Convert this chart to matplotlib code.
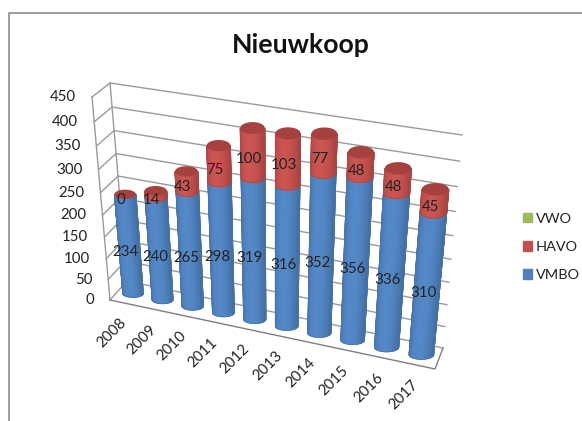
import matplotlib
matplotlib.use("Agg")
import matplotlib.pyplot as plt
import matplotlib.patches as mpatches
import numpy as np
from matplotlib.colors import LinearSegmentedColormap, to_rgb

years = ["2008", "2009", "2010", "2011", "2012", "2013", "2014", "2015", "2016", "2017"]
vmbo = [234, 240, 265, 298, 319, 316, 352, 356, 336, 310]
havo = [0, 14, 43, 75, 100, 103, 77, 48, 48, 45]
vwo = [0, 0, 0, 0, 0, 0, 0, 0, 0, 0]
y_ticks = [0, 50, 100, 150, 200, 250, 300, 350, 400, 450]

BLUE = "#4F81BD"
RED = "#C0504D"
GREEN = "#9BBB59"
RED_TOP = "#A5413E"
GRID = "#9A9A9A"
TEXT = "#222222"
FONT = "Lato"
FONT_SIZE = 10.8

Y_MAX = y_ticks[-1]

# box corners in figure pixels: (category fraction, value fraction) -> pixel
FRONT = [(110, 300), (435, 369), (457, 150), (92, 97)]
BACK = [(127, 281), (443, 348), (462, 135), (110, 83)]


def _homography(corners):
    """Perspective map from the unit square onto four pixel corners."""
    src = [(0, 0), (1, 0), (1, 1), (0, 1)]
    a, b = [], []
    for (u, v), (px, py) in zip(src, corners):
        a.append([u, v, 1, 0, 0, 0, -u * px, -v * px])
        a.append([0, 0, 0, u, v, 1, -u * py, -v * py])
        b += [px, py]
    h = np.linalg.solve(np.array(a, float), np.array(b, float))
    return np.append(h, 1).reshape(3, 3)


H_FRONT = _homography(FRONT)
H_BACK = _homography(BACK)


def project(x, value, depth):
    """x in categories, value in data units, depth 0 (front) to 1 (back)."""
    u = x / len(years)
    v = value / Y_MAX
    p = np.array([u, v, 1.0])
    a = H_FRONT @ p
    b = H_BACK @ p
    a = a[:2] / a[2]
    b = b[:2] / b[2]
    return a + (b - a) * depth


def rim(cx, value, t):
    """Point on a cylinder's circular section, flattened to an upright ellipse."""
    centre = project(cx, value, 0.5)
    spacing = project(cx + 0.5, value, 0.5)[0] - project(cx - 0.5, value, 0.5)[0]
    rx = 0.35 * spacing
    ry = rx * (0.37 + 0.12 * value / Y_MAX)
    return centre + np.array([rx * np.cos(t), -ry * np.sin(t)])


def shade_map(color):
    base = np.array(to_rgb(color))
    return LinearSegmentedColormap.from_list(
        "shade", [np.clip(base * k, 0, 1) for k in (0.86, 1.06)])


def draw_cylinder(ax, i, v0, v1, color, zorder):
    cx = i + 0.5
    # only the half that faces the viewer shows, brightest just left of the middle
    angles = np.linspace(np.pi, 2 * np.pi, 25)
    low = np.array([rim(cx, v0, t) for t in angles])
    high = np.array([rim(cx, v1, t) for t in angles])
    xs = np.vstack([low[:, 0], high[:, 0]])
    ys = np.vstack([low[:, 1], high[:, 1]])
    light = np.clip(np.cos(angles - np.radians(255)), 0, 1) ** 1.5
    ax.pcolormesh(xs, ys, np.vstack([light, light]), shading="gouraud",
                  cmap=shade_map(color), vmin=0, vmax=1, zorder=zorder)
    # thin outline keeps the mesh edges from looking stepped
    edge = np.clip(np.array(to_rgb(color)) * 0.9, 0, 1)
    outline = np.vstack([high[:1], low, high[-1:]])
    ax.plot(outline[:, 0], outline[:, 1], color=edge, lw=0.5, zorder=zorder)


def draw_cap(ax, i, value, color, zorder):
    pts = [rim(i + 0.5, value, t) for t in np.linspace(0, 2 * np.pi, 61)]
    ax.add_patch(mpatches.Polygon(pts, closed=True, facecolor=color, edgecolor="none", zorder=zorder))


def draw_walls(ax):
    n = len(years)
    for tick in y_ticks:
        side = np.array([project(0, tick, 0), project(0, tick, 1)])
        back = np.array([project(0, tick, 1), project(n, tick, 1)])
        ax.plot(side[:, 0], side[:, 1], color=GRID, lw=1.0, zorder=1)
        ax.plot(back[:, 0], back[:, 1], color=GRID, lw=1.0, zorder=1)
        px, py = project(0, tick, 0)
        ax.text(px - 16, py, str(tick), ha="right", va="center", fontsize=FONT_SIZE,
                family=FONT, color=TEXT, zorder=30)
    for depth in (0, 1):
        edge = np.array([project(0, 0, depth), project(0, Y_MAX, depth)])
        ax.plot(edge[:, 0], edge[:, 1], color=GRID, lw=1.0, zorder=1)
    floor = np.array([project(0, 0, 0), project(n, 0, 0), project(n, 0, 1)])
    ax.plot(floor[:, 0], floor[:, 1], color="#7F7F7F", lw=1.0, zorder=1)


fig = plt.figure(figsize=(5.82, 4.21), dpi=100)
ax = fig.add_axes([0, 0, 1, 1])
ax.axis("off")

# outer chart border, open to the right and the bottom
ax.plot([8.5, 8.5, 582], [421, 12.5, 12.5], color="#8C8C8C", lw=1.2, zorder=0)

draw_walls(ax)

for i, year in enumerate(years):
    z = 2 + i * 2
    top_blue = vmbo[i]
    top_red = top_blue + havo[i]
    draw_cylinder(ax, i, 0, top_blue, BLUE, z)
    if havo[i] > 0:
        draw_cylinder(ax, i, top_blue, top_red, RED, z + 0.5)
    draw_cap(ax, i, top_red, RED_TOP, z + 1)

    # value labels sit a little left of and below the segment middle
    lx, ly = project(i + 0.5, top_blue / 2, 0.5)
    ax.text(lx - 4, ly + 7, str(vmbo[i]), ha="center", va="center", fontsize=FONT_SIZE,
            family=FONT, color=TEXT, zorder=30)
    lx, ly = project(i + 0.5, top_blue + havo[i] / 2, 0.5)
    ax.text(lx - 4, ly + 6, str(havo[i]), ha="center", va="center", fontsize=FONT_SIZE,
            family=FONT, color=TEXT, zorder=30)

    tx, ty = project(i + 0.5, 0, 0)
    ax.text(tx - 13, ty + 30, year, ha="center", va="center", rotation=45,
            rotation_mode="anchor", fontsize=FONT_SIZE, family=FONT, color=TEXT, zorder=30)

ax.text(301, 45, "Nieuwkoop", ha="center", va="center", fontsize=19.2,
        fontweight="bold", family=FONT, color="#111111")

handles = [mpatches.Patch(color=c, label=l) for c, l in
           [(GREEN, "VWO"), (RED, "HAVO"), (BLUE, "VMBO")]]
ax.legend(handles=handles, loc="center left", bbox_to_anchor=(523, 247),
          bbox_transform=ax.transData, frameon=False,
          handlelength=0.62, handleheight=0.62, handletextpad=0.25, labelspacing=1.12,
          borderpad=0, borderaxespad=0,
          prop={"family": FONT, "size": 10.4}, labelcolor=TEXT)

ax.set_xlim(0, 582)
ax.set_ylim(421, 0)

fig.savefig("out.png", dpi=100)
plt.close(fig)
